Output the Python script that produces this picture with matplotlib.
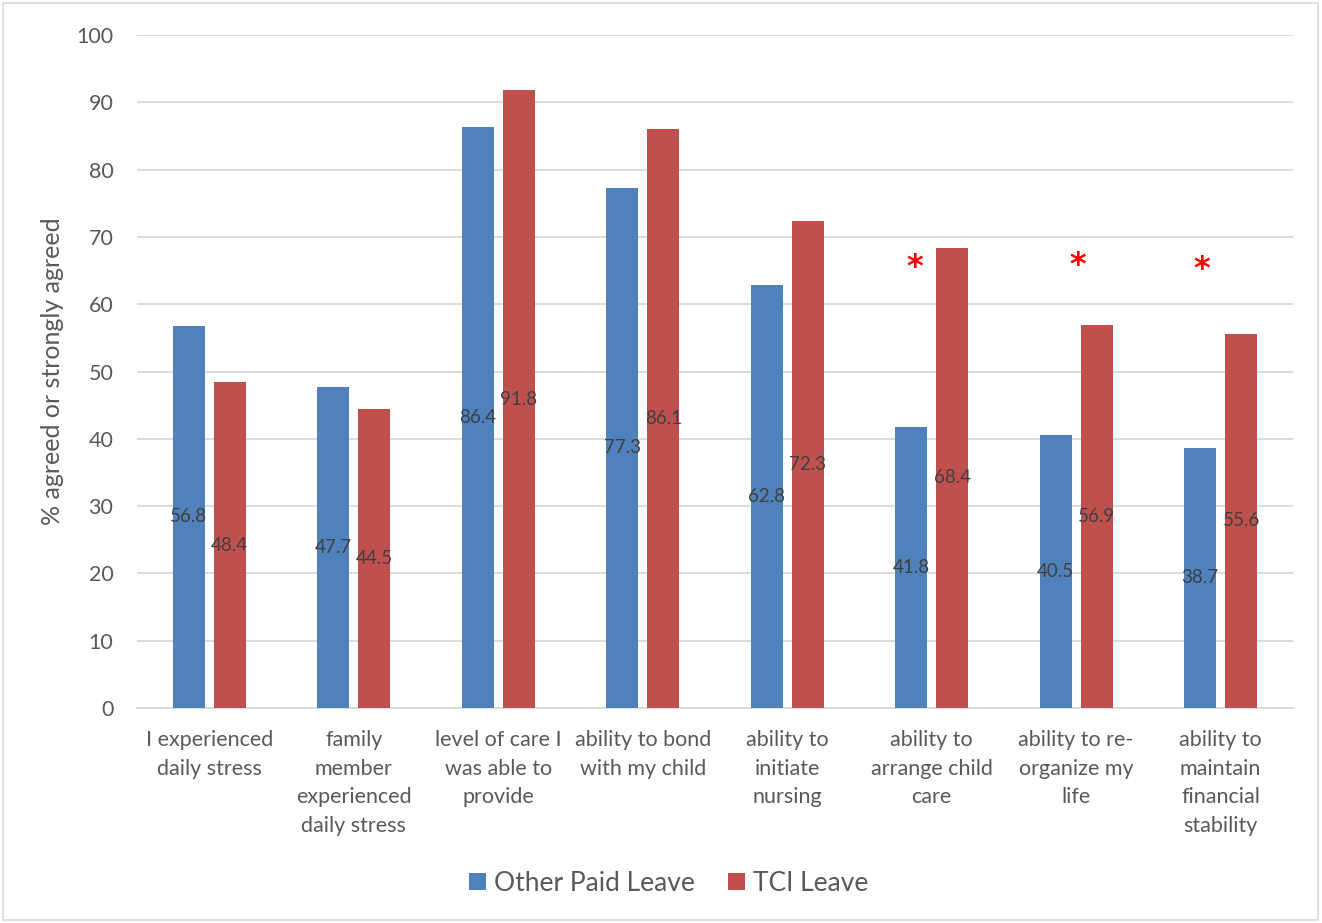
# Grouped bar chart: Other Paid Leave vs TCI Leave outcomes
import numpy as np
import matplotlib.pyplot as plt
from matplotlib.patches import Rectangle

plt.rcParams['font.family'] = ['Lato', 'DejaVu Sans']

# data
categories = [
    "I experienced\ndaily stress",
    "family\nmember\nexperienced\ndaily stress",
    "level of care I\nwas able to\nprovide",
    "ability to bond\nwith my child",
    "ability to\ninitiate\nnursing",
    "ability to\narrange child\ncare",
    "ability to re-\norganize my\nlife",
    "ability to\nmaintain\nfinancial\nstability",
]
other_paid = [56.8, 47.7, 86.4, 77.3, 62.8, 41.8, 40.5, 38.7]
tci_leave = [48.4, 44.5, 91.8, 86.1, 72.3, 68.4, 56.9, 55.6]
star_idx = [5, 6, 7]
star_x_off = [-0.12, 0.01, -0.13]
star_y = [65.4, 65.7, 65.1]

BLUE = '#4F81BD'
RED = '#C0504D'
TXT = '#595959'

fig = plt.figure(figsize=(13.22, 9.23), dpi=100)
ax = fig.add_axes([0.1036, 0.233, 0.8744, 0.729])

x = np.arange(len(categories))
w = 0.22
off = 0.142
b1 = ax.bar(x - off, other_paid, w, color=BLUE, label='Other Paid Leave', zorder=3)
b2 = ax.bar(x + off, tci_leave, w, color=RED, label='TCI Leave', zorder=3)

# value labels at the middle of each bar
for bars, vals in ((b1, other_paid), (b2, tci_leave)):
    for b, v in zip(bars, vals):
        ax.text(b.get_x() + b.get_width() / 2, v / 2, f"{v:.1f}",
                ha='center', va='center', fontsize=13.5, color='#404040', zorder=4)

# significance markers
for i, dx, sy in zip(star_idx, star_x_off, star_y):
    ax.text(i + dx, sy, '*', ha='center', va='center', fontsize=23,
            color='#FF0000', fontweight='bold', family='DejaVu Sans', zorder=4)

ax.set_xlim(-0.5, len(categories) - 0.5)
ax.set_ylim(0, 100)
ax.set_yticks(range(0, 101, 10))
ax.yaxis.grid(True, color='#D9D9D9', linewidth=1.3, zorder=0)
ax.set_axisbelow(True)
for s in ['top', 'right', 'left']:
    ax.spines[s].set_visible(False)
ax.spines['bottom'].set_color('#D9D9D9')
ax.spines['bottom'].set_linewidth(1.3)
ax.tick_params(length=0, colors=TXT, labelsize=15.5)
ax.tick_params(axis='y', pad=17)
ax.tick_params(axis='x', pad=16)
ax.set_xticks(x)
ax.set_xticklabels(categories, linespacing=1.53)
ax.set_ylabel('% agreed or strongly agreed', fontsize=18, color=TXT)
ax.yaxis.set_label_coords(-0.063, 0.5)

fig.legend(handles=[b1, b2], loc='center', bbox_to_anchor=(0.506, 0.043), ncol=2,
           frameon=False, fontsize=19, handlelength=0.65, handleheight=0.65,
           handletextpad=0.3, columnspacing=1.25, labelcolor=TXT)

# thin border around the chart area
fig.patches.append(Rectangle((0.002, 0.003), 0.995, 0.994, transform=fig.transFigure,
                             fill=False, edgecolor='#D9D9D9', linewidth=1.2))

fig.savefig('out.png', dpi=100)
